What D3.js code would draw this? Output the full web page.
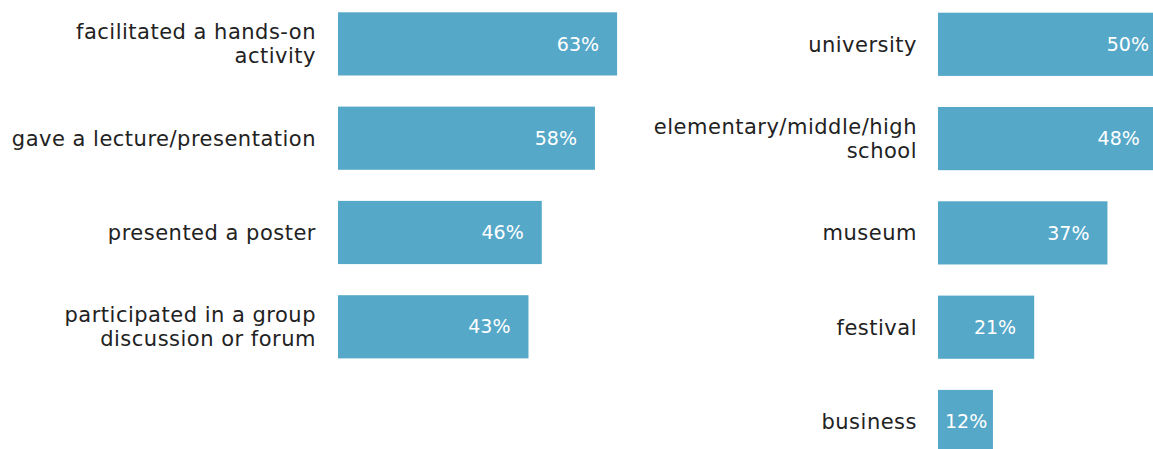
<!DOCTYPE html>
<html>
<head>
<meta charset="utf-8">
<script src="https://cdn.jsdelivr.net/npm/d3@7"></script>
<style>
  html, body { margin: 0; padding: 0; background: #fff; overflow: hidden; }
  svg { display: block; font-family: "DejaVu Sans", sans-serif; }
</style>
</head>
<body>
<svg id="chart" width="1153" height="449"></svg>
<script>
// Engagement activities (left panel)
const activityLabels = [
  ["facilitated a hands-on", "activity"],
  ["gave a lecture/presentation"],
  ["presented a poster"],
  ["participated in a group", "discussion or forum"]
];
const activityValues = [63, 58, 46, 43];

// Venues (right panel)
const venueLabels = [
  ["university"],
  ["elementary/middle/high", "school"],
  ["museum"],
  ["festival"],
  ["business"]
];
const venueValues = [50, 48, 37, 21, 12];

const svg = d3.select("#chart");
const barColor = "#55a8c8";
const textColor = "#222";

function panel(labels, values, opt) {
  const n = values.length;
  const step = 94.3, pad = 0.33;
  const y = d3.scaleBand()
    .domain(d3.range(n))
    .range([opt.top, opt.top + step * (n - pad)])
    .paddingInner(pad)
    .paddingOuter(0);
  const x = d3.scaleLinear().domain([0, 100]).range([opt.x0, opt.x0 + opt.pxPer100]);

  const g = svg.append("g");

  g.selectAll("rect")
    .data(values)
    .join("rect")
    .attr("x", x(0))
    .attr("y", (d, i) => y(i))
    .attr("width", d => x(d) - x(0))
    .attr("height", y.bandwidth())
    .attr("fill", barColor);

  // value labels, placed just inside the bar end
  const vals = g.selectAll("text.val")
    .data(values)
    .join("text")
    .attr("class", "val")
    .attr("fill", "#fff")
    .attr("font-size", 19)
    .attr("y", (d, i) => y(i) + y.bandwidth() / 2)
    .attr("dy", "0.35em")
    .attr("text-anchor", "end")
    .text(d => d + "%");
  vals.each(function (d) {
    const w = this.getComputedTextLength();
    const xe = Math.max(x(d) - 18, x(0) + 7 + w);
    d3.select(this).attr("x", xe);
  });

  // category labels, right aligned left of the bars
  const fs = 21, lineH = 24;
  const cats = g.selectAll("text.cat")
    .data(labels)
    .join("text")
    .attr("class", "cat")
    .attr("fill", textColor)
    .attr("font-size", fs)
    .attr("letter-spacing", 0.5)
    .attr("text-anchor", "end")
    .attr("x", opt.labelX)
    .attr("y", (d, i) => y(i) + y.bandwidth() / 2);
  cats.selectAll("tspan")
    .data(d => d.map((t, j) => ({ t, j, n: d.length })))
    .join("tspan")
    .attr("x", opt.labelX)
    .attr("dy", d => d.j === 0 ? (0.35 * fs - (d.n - 1) * lineH / 2) + "px" : lineH + "px")
    .text(d => d.t);
}

panel(activityLabels, activityValues, { x0: 338, pxPer100: 443, top: 12.3, labelX: 316 });
panel(venueLabels, venueValues, { x0: 938, pxPer100: 458, top: 12.7, labelX: 917 });
</script>
</body>
</html>
